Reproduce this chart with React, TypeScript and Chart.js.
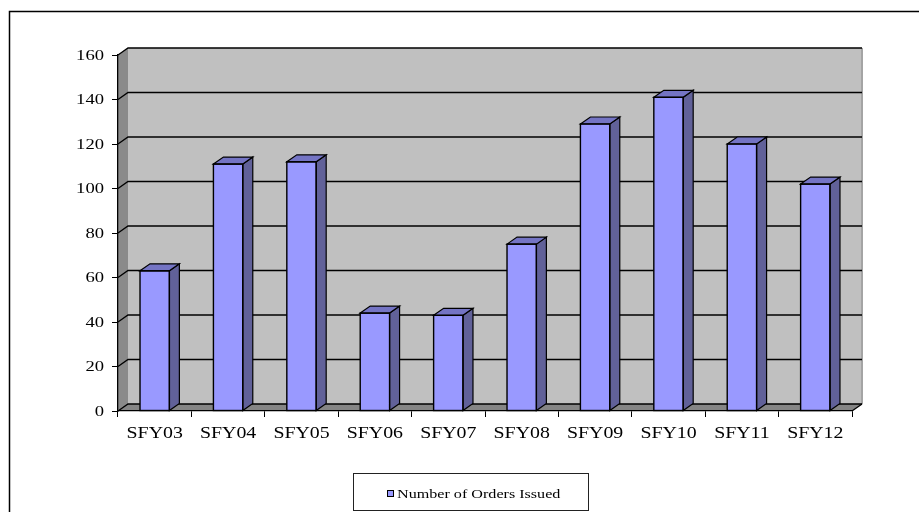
import React, { useEffect, useRef } from "react";
import { Chart, registerables } from "chart.js";

Chart.register(...registerables);

// Fiscal years shown along the category axis
const categories = ["SFY03", "SFY04", "SFY05", "SFY06", "SFY07", "SFY08", "SFY09", "SFY10", "SFY11", "SFY12"];
// Orders issued per fiscal year
const ordersIssued = [63, 111, 112, 44, 43, 75, 129, 141, 120, 102];
const seriesLabel = "Number of Orders Issued";
// Value axis range
const yMin = 0;
const yMax = 160;
const yStep = 20;

// Depth of the pseudo-3D extrusion (px)
const DX = 10;
const DY = 7;
// Horizontal stretch applied to all lettering (wide Times look)
const TEXT_STRETCH = 1.24;

const FRONT = "#9999ff";
const SIDE = "#616199";
const TOP = "#7474c4";
const FONT = "'Liberation Serif', 'Times New Roman', serif";

type Pt = [number, number];

function fillPoly(ctx: CanvasRenderingContext2D, pts: Pt[], fill: string, stroke?: string, lw = 1) {
  ctx.beginPath();
  ctx.moveTo(pts[0][0], pts[0][1]);
  for (let i = 1; i < pts.length; i++) ctx.lineTo(pts[i][0], pts[i][1]);
  ctx.closePath();
  ctx.fillStyle = fill;
  ctx.fill();
  if (stroke) {
    ctx.strokeStyle = stroke;
    ctx.lineWidth = lw;
    ctx.stroke();
  }
}

function wideText(
  ctx: CanvasRenderingContext2D,
  text: string,
  x: number,
  y: number,
  size: number,
  align: CanvasTextAlign,
  baseline: CanvasTextBaseline
) {
  ctx.save();
  ctx.translate(x, y);
  ctx.scale(TEXT_STRETCH, 1);
  ctx.font = `${size}px ${FONT}`;
  ctx.fillStyle = "#000";
  ctx.textAlign = align;
  ctx.textBaseline = baseline;
  ctx.fillText(text, 0, 0);
  ctx.restore();
}

const columns3d = {
  id: "columns3d",
  beforeDraw(chart: any) {
    const { ctx, chartArea: a, scales } = chart;
    const y = scales.y;
    ctx.save();
    // back wall
    ctx.fillStyle = "#c0c0c0";
    ctx.fillRect(a.left + DX, a.top - DY, a.right - a.left, a.bottom - a.top);
    // right edge of the back wall
    ctx.strokeStyle = "#a4a4a4";
    ctx.lineWidth = 2;
    ctx.beginPath();
    ctx.moveTo(a.right + DX, a.top - DY);
    ctx.lineTo(a.right + DX, a.bottom - DY);
    ctx.stroke();
    // side wall
    fillPoly(ctx, [[a.left, a.top], [a.left + DX, a.top - DY], [a.left + DX, a.bottom - DY], [a.left, a.bottom]], "#8a8a8a");
    // floor
    fillPoly(ctx, [[a.left, a.bottom], [a.right, a.bottom], [a.right + DX, a.bottom - DY], [a.left + DX, a.bottom - DY]], "#858585");
    // gridlines wrap from the side wall onto the back wall
    ctx.strokeStyle = "#000";
    ctx.lineWidth = 1.3;
    for (const t of y.ticks) {
      const py = y.getPixelForValue(t.value);
      ctx.beginPath();
      ctx.moveTo(a.left, py);
      ctx.lineTo(a.left + DX, py - DY);
      ctx.lineTo(a.right + DX, py - DY);
      ctx.stroke();
    }
    // floor right edge
    ctx.beginPath();
    ctx.moveTo(a.right, a.bottom);
    ctx.lineTo(a.right + DX, a.bottom - DY);
    ctx.stroke();
    ctx.restore();
  },
  afterDatasetsDraw(chart: any) {
    const { ctx } = chart;
    const meta = chart.getDatasetMeta(0);
    ctx.save();
    ctx.lineJoin = "miter";
    for (const el of meta.data) {
      const { x, y, base, width } = el.getProps(["x", "y", "base", "width"], true);
      const l = x - width / 2;
      const r = x + width / 2;
      fillPoly(ctx, [[r, y], [r + DX, y - DY], [r + DX, base - DY], [r, base]], SIDE, "#000", 1.2);
      fillPoly(ctx, [[l, y], [l + DX, y - DY], [r + DX, y - DY], [r, y]], TOP, "#000", 1.2);
      ctx.strokeStyle = "#000";
      ctx.lineWidth = 1.4;
      ctx.strokeRect(l, y, width, base - y);
    }
    ctx.restore();
  },
  afterDraw(chart: any) {
    const { ctx, chartArea: a, scales } = chart;
    const ds = chart.data.datasets[0];
    // value axis labels
    for (const t of scales.y.ticks) {
      wideText(ctx, String(t.label), a.left - 14, scales.y.getPixelForValue(t.value) + 1, 15, "right", "middle");
    }
    // category labels
    chart.data.labels.forEach((lab: string, i: number) => {
      wideText(ctx, lab, scales.x.getPixelForValue(i), a.bottom + 27, 16, "center", "alphabetic");
    });
    ctx.save();
    // outer frame
    ctx.strokeStyle = "#000";
    ctx.lineWidth = 1.5;
    ctx.beginPath();
    ctx.moveTo(9.5, 512);
    ctx.lineTo(9.5, 11.5);
    ctx.lineTo(919, 11.5);
    ctx.stroke();
    // legend
    ctx.lineWidth = 1;
    ctx.strokeStyle = "#222";
    ctx.strokeRect(353.5, 473.5, 235, 37);
    ctx.fillStyle = ds.backgroundColor;
    ctx.fillRect(387.5, 490.5, 6, 6);
    ctx.strokeStyle = "#000";
    ctx.strokeRect(387.5, 490.5, 6, 6);
    ctx.restore();
    wideText(ctx, ds.label, 397, 497.5, 13, "left", "alphabetic");
  },
};

export default function App() {
  const ref = useRef<HTMLCanvasElement | null>(null);

  useEffect(() => {
    if (!ref.current) return;
    const chart = new Chart(ref.current, {
      type: "bar",
      data: {
        labels: categories,
        datasets: [
          {
            label: seriesLabel,
            data: ordersIssued,
            backgroundColor: FRONT,
            borderWidth: 0,
            categoryPercentage: 1,
            barPercentage: 0.4,
          },
        ],
      },
      options: {
        animation: false,
        responsive: true,
        maintainAspectRatio: false,
        layout: { padding: { left: 48, right: 67, top: 55, bottom: 61 } },
        plugins: { legend: { display: false }, tooltip: { enabled: false } },
        scales: {
          x: {
            offset: true,
            grid: { offset: true, drawOnChartArea: false, drawTicks: true, tickLength: 6, color: "#000", lineWidth: 1 },
            border: { display: true, color: "#000", width: 1.3 },
            ticks: { display: false },
            afterFit: (s: any) => {
              s.height = 40;
            },
          },
          y: {
            min: yMin,
            max: yMax,
            ticks: { display: false, stepSize: yStep },
            grid: { drawOnChartArea: false, drawTicks: true, tickLength: 6, color: "#000", lineWidth: 1 },
            border: { display: true, color: "#000", width: 1.3 },
            afterFit: (s: any) => {
              s.width = 70;
            },
          },
        },
      },
      plugins: [columns3d],
    });
    return () => chart.destroy();
  }, []);

  return (
    <div style={{ position: "fixed", left: 0, top: 0, width: 919, height: 512, background: "#fff" }}>
      <canvas ref={ref} />
    </div>
  );
}
